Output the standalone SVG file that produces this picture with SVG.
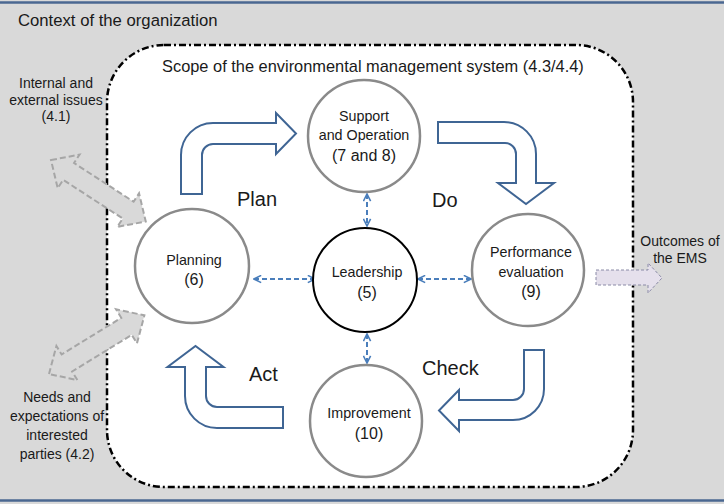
<svg xmlns="http://www.w3.org/2000/svg" width="724" height="504" viewBox="0 0 724 504">
<defs>
<style>
text{font-family:"Liberation Sans",Arial,sans-serif;fill:#1a1a1a}
.lbl{font-size:14.3px;text-anchor:middle}
.num{font-size:16px;text-anchor:middle}
.side{font-size:14px;text-anchor:middle}
.pdca{font-size:20px}
.circ{fill:#fff;stroke:#8a8a8a;stroke-width:2.5}
.lead{fill:#fff;stroke:#000;stroke-width:2}
.block{fill:#fff;stroke:#3f6594;stroke-width:2;stroke-linejoin:miter}
.gray{fill:#d9d9d9;stroke:#a6a6a6;stroke-width:2;stroke-dasharray:6 3}
.dash{fill:none;stroke:#4a7ebb;stroke-width:2;stroke-dasharray:5 3;marker-start:url(#ah);marker-end:url(#ah)}
</style>
<marker id="ah" viewBox="0 0 10 10" refX="9" refY="5" markerWidth="9" markerHeight="9" markerUnits="userSpaceOnUse" orient="auto-start-reverse">
<path d="M1,1 L9,5 L1,9" fill="none" stroke="#4a7ebb" stroke-width="1.8"/>
</marker>
</defs>
<g id="context">
<rect x="0" y="0" width="724" height="504" fill="#d9d9d9"/>
<line x1="0" y1="2.5" x2="724" y2="2.5" stroke="#4a6791" stroke-width="2.5"/>
<line x1="0" y1="500.5" x2="724" y2="500.5" stroke="#4a6791" stroke-width="2.5"/>
<text x="18" y="26" style="font-size:16.7px">Context of the organization</text>
</g>
<g id="scope">
<rect x="107" y="45" width="526" height="442" rx="57" ry="57" fill="#fff" stroke="#000" stroke-width="2.5" stroke-dasharray="7 3 2 3"/>
<text x="162" y="72" style="font-size:16.4px">Scope of the environmental management system (4.3/4.4)</text>
</g>
<g id="connectors">
<path class="gray" transform="translate(51,160) rotate(33)" d="M0,0 L21,-20 L21,-10 L92,-10 L92,-20 L113,0 L92,20 L92,10 L21,10 L21,20 Z"/>
<path class="gray" transform="translate(49,374) rotate(-31.6)" d="M0,0 L21,-20 L21,-10 L91,-10 L91,-20 L112,0 L91,20 L91,10 L21,10 L21,20 Z"/>
<path d="M596,270 L648,270 L648,263 L662,278 L648,293 L648,285 L596,285 Z" fill="#e5e0ec" stroke="#8a8aa6" stroke-width="1" stroke-dasharray="3 2"/>
<path id="plan-arrow" class="block" d="M181,194 L181,155 A32,32 0 0 1 213,123 L276,123 L276,113 L296,133.5 L276,154 L276,144 L213,144 A11,11 0 0 0 202,155 L202,194 Z"/>
<path id="do-arrow" class="block" d="M438,122 L504,122 A32,32 0 0 1 536,154 L536,183 L554,183 L526,204 L498,183 L516,183 L516,154 A11,11 0 0 0 505,143 L438,143 Z"/>
<path id="check-arrow" class="block" d="M524,350 L544,350 L544,389 A31,31 0 0 1 513,420 L459,420 L459,431 L439,410.5 L459,390 L459,400 L513,400 A11,11 0 0 0 524,389 Z"/>
<path id="act-arrow" class="block" d="M283,407 L283,428 L217,428 A32,32 0 0 1 185,396 L185,367 L167.5,367 L195.5,346 L223.5,367 L206,367 L206,396 A11,11 0 0 0 217,407 Z"/>
<line class="dash" x1="254" y1="279" x2="315" y2="279"/>
<line class="dash" x1="418" y1="279" x2="471" y2="279"/>
<line class="dash" x1="367" y1="194" x2="367" y2="226"/>
<line class="dash" x1="367" y1="334" x2="367" y2="363"/>
</g>
<g id="support">
<circle class="circ" cx="364" cy="136" r="56"/>
<text class="lbl" x="364" y="121">Support</text>
<text class="lbl" x="364" y="140">and Operation</text>
<text class="num" x="364" y="161">(7 and 8)</text>
</g>
<g id="leadership">
<circle class="lead" cx="365" cy="280" r="52"/>
<text class="lbl" x="367" y="277">Leadership</text>
<text class="num" x="367" y="298">(5)</text>
</g>
<g id="planning">
<circle class="circ" cx="192" cy="266" r="57"/>
<text class="lbl" x="194" y="265">Planning</text>
<text class="num" x="194" y="285">(6)</text>
</g>
<g id="performance">
<circle class="circ" cx="528" cy="270" r="56"/>
<text class="lbl" x="531" y="257">Performance</text>
<text class="lbl" x="531" y="277">evaluation</text>
<text class="num" x="531" y="297">(9)</text>
</g>
<g id="improvement">
<circle class="circ" cx="366" cy="421" r="56"/>
<text class="lbl" x="369" y="418">Improvement</text>
<text class="num" x="369" y="439">(10)</text>
</g>
<g id="pdca-labels">
<text class="pdca" x="237" y="206">Plan</text>
<text class="pdca" x="432" y="207">Do</text>
<text class="pdca" x="422" y="375">Check</text>
<text class="pdca" x="249" y="381">Act</text>
</g>
<g id="issues">
<text class="side" x="56" y="88">Internal and</text>
<text class="side" x="56" y="104.5">external issues</text>
<text class="side" x="56" y="121">(4.1)</text>
</g>
<g id="parties">
<text class="side" x="57" y="402">Needs and</text>
<text class="side" x="57" y="421">expectations of</text>
<text class="side" x="57" y="440">interested</text>
<text class="side" x="57" y="459">parties (4.2)</text>
</g>
<g id="outcomes">
<text class="side" x="680" y="246">Outcomes of</text>
<text class="side" x="680" y="263">the EMS</text>
</g>
</svg>
